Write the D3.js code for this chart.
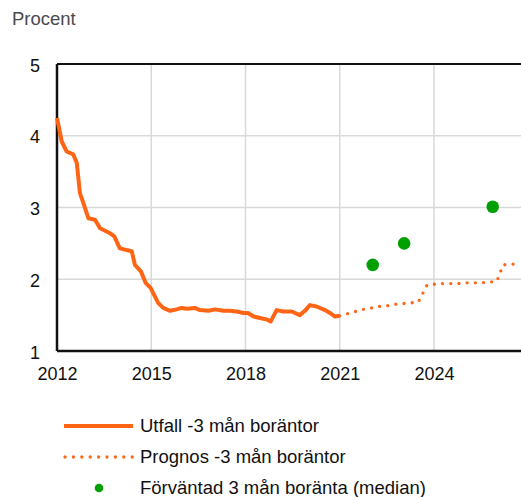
<!DOCTYPE html>
<html><head><meta charset="utf-8">
<script src="https://cdn.jsdelivr.net/npm/d3@7"></script>
<style>body{margin:0;background:#fff}svg{display:block}text{font-family:"Liberation Sans",Arial,sans-serif}</style>
</head><body><svg id="c" width="521" height="497"></svg>
<script>
const utfallT = [2012.0,2012.15,2012.31,2012.52,2012.63,2012.73,2012.84,2013.0,2013.21,2013.37,2013.69,2013.82,2014.0,2014.38,2014.48,2014.67,2014.82,2014.98,2015.22,2015.38,2015.6,2015.81,2015.97,2016.13,2016.39,2016.55,2016.82,2017.03,2017.29,2017.5,2017.72,2017.93,2018.08,2018.26,2018.46,2018.68,2018.8,2018.99,2019.2,2019.47,2019.73,2019.89,2020.05,2020.26,2020.53,2020.69,2020.85,2021.0];
const utfallV = [4.25,3.92,3.78,3.74,3.62,3.20,3.06,2.85,2.83,2.71,2.64,2.60,2.43,2.39,2.20,2.11,1.95,1.88,1.67,1.60,1.56,1.58,1.60,1.59,1.60,1.57,1.56,1.58,1.56,1.56,1.55,1.53,1.53,1.48,1.46,1.44,1.41,1.57,1.55,1.55,1.50,1.56,1.64,1.62,1.57,1.53,1.48,1.49];
const prognosT = [2021.0,2021.25,2021.5,2021.75,2022.0,2022.25,2022.5,2022.75,2023.0,2023.25,2023.5,2023.78,2024.0,2024.25,2024.5,2024.75,2025.0,2025.25,2025.5,2025.75,2026.0,2026.2,2026.5,2026.77];
const prognosV = [1.49,1.52,1.55,1.58,1.60,1.62,1.63,1.65,1.66,1.67,1.68,1.92,1.93,1.94,1.94,1.94,1.95,1.95,1.95,1.96,1.97,2.20,2.21,2.21];
const forvT = [2022.05,2023.05,2025.87];
const forvV = [2.20,2.50,3.01];
const xTicks = [2012,2015,2018,2021,2024];
const yTicks = [1,2,3,4,5];
const legendLabels = ["Utfall -3 mån boräntor","Prognos -3 mån boräntor","Förväntad 3 mån boränta (median)"];

const orange = "#ff6514", green = "#00a000";
const svg = d3.select("#c");
const L = 57, R = 521, T = 64, B = 351;
const x = d3.scaleLinear().domain([2012, 2026.77]).range([L, R]);
const y = d3.scaleLinear().domain([1, 5]).range([B, T]);

svg.append("text").attr("x", 12).attr("y", 24.5).attr("font-size", 18.5).attr("fill", "#4a4a4a")
  .attr("font-family", '"Open Sans","Liberation Sans",sans-serif').attr("font-weight", 300).text("Procent");

// grid
svg.append("g").selectAll("line").data(yTicks.slice(1, -1)).join("line")
  .attr("x1", L).attr("x2", R).attr("y1", d => y(d)).attr("y2", d => y(d))
  .attr("stroke", "#d9d9d9").attr("stroke-width", 1.5);
svg.append("g").selectAll("line").data(xTicks.slice(1)).join("line")
  .attr("y1", T).attr("y2", B).attr("x1", d => x(d)).attr("x2", d => x(d))
  .attr("stroke", "#d9d9d9").attr("stroke-width", 1.5);

// axes
const yAxis = svg.append("g").attr("transform", `translate(${L},0)`)
  .call(d3.axisLeft(y).tickValues(yTicks).tickSize(0).tickPadding(17).tickFormat(d3.format("d")));
const xAxis = svg.append("g").attr("transform", `translate(0,${B})`)
  .call(d3.axisBottom(x).tickValues(xTicks).tickSize(0).tickPadding(16).tickFormat(d3.format("d")));
[yAxis, xAxis].forEach(a => {
  a.select(".domain").remove();
  a.selectAll("text").attr("font-size", 18).attr("fill", "#111").attr("font-family", '"Liberation Sans",Arial,sans-serif');
});
yAxis.selectAll("text").attr("dy", "0.4em");
svg.append("line").attr("x1", L).attr("x2", R).attr("y1", T).attr("y2", T).attr("stroke", "#111").attr("stroke-width", 2);
svg.append("line").attr("x1", L).attr("x2", R).attr("y1", B).attr("y2", B).attr("stroke", "#111").attr("stroke-width", 2.5);
svg.append("line").attr("x1", L).attr("x2", L).attr("y1", T).attr("y2", B).attr("stroke", "#111").attr("stroke-width", 2.5);

const line = d3.line().x(d => x(d[0])).y(d => y(d[1]));
svg.append("path").datum(prognosT.map((t, i) => [t, prognosV[i]]))
  .attr("d", line).attr("fill", "none").attr("stroke", orange).attr("stroke-width", 3.3)
  .attr("stroke-linecap", "round").attr("stroke-dasharray", "0,8.2");
svg.append("path").datum(utfallT.map((t, i) => [t, utfallV[i]]))
  .attr("d", line).attr("fill", "none").attr("stroke", orange).attr("stroke-width", 4)
  .attr("stroke-linejoin", "round");
svg.append("g").selectAll("circle").data(forvT.map((t, i) => [t, forvV[i]])).join("circle")
  .attr("cx", d => x(d[0])).attr("cy", d => y(d[1])).attr("r", 6.3).attr("fill", green);

// legend
const lg = svg.append("g");
lg.append("line").attr("x1", 64).attr("x2", 133).attr("y1", 426).attr("y2", 426).attr("stroke", orange).attr("stroke-width", 4);
lg.append("line").attr("x1", 65).attr("x2", 133).attr("y1", 457).attr("y2", 457).attr("stroke", orange).attr("stroke-width", 3.3)
  .attr("stroke-linecap", "round").attr("stroke-dasharray", "0,8.4");
lg.append("circle").attr("cx", 99).attr("cy", 488).attr("r", 4.3).attr("fill", green);
lg.selectAll("text").data(legendLabels).join("text")
  .attr("x", 140).attr("y", (d, i) => 432 + i * 31).attr("font-size", 18.5).attr("fill", "#111").text(d => d);
</script></body></html>
